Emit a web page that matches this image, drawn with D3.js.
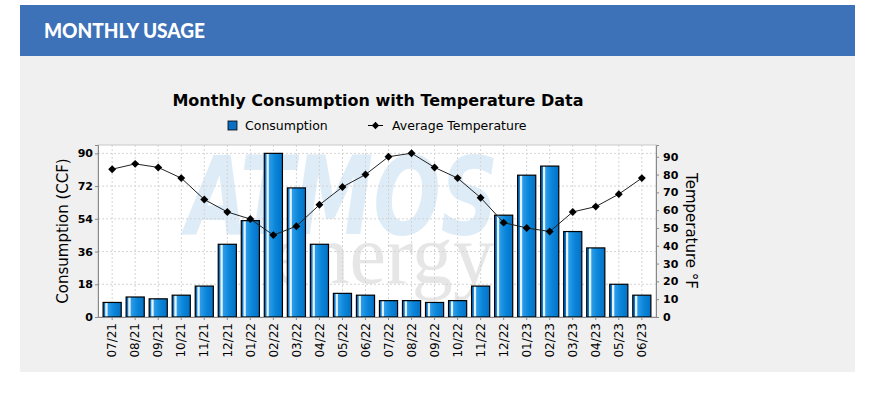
<!DOCTYPE html>
<html>
<head>
<meta charset="utf-8">
<script src="https://cdn.jsdelivr.net/npm/d3@7"></script>
<style>
  body { margin: 0; background: #fff; }
  svg { display: block; font-family: "DejaVu Sans", sans-serif; }
</style>
</head>
<body>
<div class="chartbox"></div>
<script>
var months = ["07/21","08/21","09/21","10/21","11/21","12/21","01/22","02/22","03/22","04/22","05/22","06/22",
              "07/22","08/22","09/22","10/22","11/22","12/22","01/23","02/23","03/23","04/23","05/23","06/23"];
var consumption = [8, 11, 10, 12, 17, 40, 53, 90, 71, 40, 13, 12,
                   9, 9, 8, 9, 17, 56, 78, 83, 47, 38, 18, 12];
var avgTemp = [83, 86, 84, 78, 66, 59, 55, 46, 51, 63, 73, 80,
               90, 92, 84, 78, 67, 53, 50, 48, 59, 62, 69, 78];
var leftTicks = [0, 18, 36, 54, 72, 90];
var rightTicks = [0, 10, 20, 30, 40, 50, 60, 70, 80, 90];

var width = 878, height = 394;
var plot = {left: 98, right: 656, top: 145, bottom: 317};

var svg = d3.select(".chartbox").append("svg")
    .attr("width", width)
    .attr("height", height);

// page panel + header bar
svg.append("rect").attr("x", 20).attr("y", 56).attr("width", 835).attr("height", 316).attr("fill", "#f0f0f0");
svg.append("rect").attr("x", 20).attr("y", 5).attr("width", 835).attr("height", 51).attr("fill", "#3d72b8");
svg.append("text")
    .attr("x", 44).attr("y", 38)
    .attr("fill", "#fff")
    .style("font-family", "Lato, 'Open Sans', sans-serif")
    .style("font-weight", "900")
    .style("font-size", "21px")
    .attr("textLength", 161)
    .attr("lengthAdjust", "spacingAndGlyphs")
    .text("MONTHLY USAGE");

var defs = svg.append("defs");
var grad = defs.append("linearGradient").attr("id", "barGrad")
    .attr("x1", "0%").attr("x2", "100%").attr("y1", "0%").attr("y2", "0%");
[[0, "#0b6fc0"], [0.1, "#0b78cc"], [0.14, "#e4f2fb"], [0.22, "#e4f2fb"], [0.28, "#2c9ce8"], [0.6, "#0a86da"], [1, "#0570c4"]]
    .forEach(function(s) { grad.append("stop").attr("offset", s[0]).attr("stop-color", s[1]); });

var x = d3.scaleBand()
    .domain(months)
    .range([plot.left, plot.right])
    .paddingInner(0.17)
    .paddingOuter(0.2);
var yL = d3.scaleLinear().domain([0, 94.6]).range([plot.bottom, plot.top]);
var yR = d3.scaleLinear().domain([0, 96.6]).range([plot.bottom, plot.top]);

// plot background
svg.append("rect")
    .attr("x", plot.left).attr("y", plot.top)
    .attr("width", plot.right - plot.left).attr("height", plot.bottom - plot.top)
    .attr("fill", "#fff").attr("stroke", "#c8c8c8");

// watermark logo (sits behind the grid)
var wm = svg.append("g").attr("class", "watermark");
wm.append("text")
    .attr("x", 186).attr("y", 234)
    .attr("fill", "#deecf7")
    .style("font-weight", "bold").style("font-style", "italic")
    .style("font-size", "108px")
    .attr("textLength", 312).attr("lengthAdjust", "spacingAndGlyphs")
    .text("ATMOS");
wm.append("text")
    .attr("x", 272).attr("y", 283)
    .attr("fill", "#e6e6e6")
    .style("font-family", "'Liberation Serif', serif")
    .style("font-size", "84px")
    .attr("textLength", 222).attr("lengthAdjust", "spacingAndGlyphs")
    .text("energy");

// grid lines
svg.append("g").selectAll("line.hg")
    .data(leftTicks.slice(1))
    .enter().append("line")
    .attr("x1", plot.left).attr("x2", plot.right)
    .attr("y1", function(d) { return yL(d); }).attr("y2", function(d) { return yL(d); })
    .attr("stroke", "#d4d4d4").attr("stroke-dasharray", "2,2");
svg.append("g").selectAll("line.vg")
    .data(months)
    .enter().append("line")
    .attr("x1", function(d) { return x(d) + x.bandwidth() / 2; })
    .attr("x2", function(d) { return x(d) + x.bandwidth() / 2; })
    .attr("y1", plot.top).attr("y2", plot.bottom)
    .attr("stroke", "#d4d4d4").attr("stroke-dasharray", "2,2");

// bars
svg.append("g").selectAll("rect")
    .data(consumption)
    .enter().append("rect")
    .attr("x", function(d, i) { return x(months[i]) + 0.5; })
    .attr("y", function(d) { return yL(d); })
    .attr("width", x.bandwidth() - 1)
    .attr("height", function(d) { return plot.bottom - yL(d); })
    .attr("fill", "url(#barGrad)")
    .attr("stroke", "#000").attr("stroke-width", 1.2);

// temperature line
var line = d3.line()
    .x(function(d, i) { return x(months[i]) + x.bandwidth() / 2; })
    .y(function(d) { return yR(d); });
svg.append("path").datum(avgTemp)
    .attr("d", line).attr("fill", "none").attr("stroke", "#222").attr("stroke-width", 1);
svg.append("g").selectAll("path.pt")
    .data(avgTemp)
    .enter().append("path")
    .attr("d", d3.symbol().type(d3.symbolDiamond2).size(40))
    .attr("transform", function(d, i) {
        return "translate(" + (x(months[i]) + x.bandwidth() / 2) + "," + yR(d) + ")";
    })
    .attr("fill", "#000");

// axes
var axisL = svg.append("g").attr("transform", "translate(" + plot.left + ",0)")
    .call(d3.axisLeft(yL).tickValues(leftTicks).tickSize(3).tickPadding(2));
var axisR = svg.append("g").attr("transform", "translate(" + plot.right + ",0)")
    .call(d3.axisRight(yR).tickValues(rightTicks).tickSize(3).tickPadding(4));
var axisB = svg.append("g").attr("transform", "translate(0," + plot.bottom + ")")
    .call(d3.axisBottom(x).tickSize(3).tickSizeOuter(0));

[axisL, axisR].forEach(function(a) {
    a.selectAll("text").style("font-size", "11px").style("font-weight", "bold")
        .style("font-family", "'DejaVu Sans', sans-serif").attr("fill", "#000");
});
[axisL, axisR, axisB].forEach(function(a) {
    a.select(".domain").attr("stroke", "#888");
    a.selectAll(".tick line").attr("stroke", "#888");
});
axisB.selectAll("text")
    .style("font-size", "12px").style("font-family", "'DejaVu Sans', sans-serif")
    .attr("fill", "#000")
    .attr("transform", "rotate(-90)")
    .attr("text-anchor", "end")
    .attr("x", -6).attr("y", 0).attr("dy", "0.35em");

// axis titles
svg.append("text")
    .attr("transform", "translate(68,231) rotate(-90)")
    .attr("text-anchor", "middle")
    .style("font-size", "15px")
    .text("Consumption (CCF)");
svg.append("text")
    .attr("transform", "translate(686,231) rotate(90)")
    .attr("text-anchor", "middle")
    .style("font-size", "15px")
    .text("Temperature °F");

// title
svg.append("text")
    .attr("x", 378).attr("y", 106)
    .attr("text-anchor", "middle")
    .style("font-size", "16px")
    .style("font-weight", "bold")
    .text("Monthly Consumption with Temperature Data");

// legend
var legend = svg.append("g");
legend.append("rect").attr("x", 228).attr("y", 121).attr("width", 9).attr("height", 9)
    .attr("fill", "#0a6fc2").attr("stroke", "#000").attr("stroke-width", 0.8);
legend.append("text").attr("x", 245).attr("y", 130).style("font-size", "12.5px").text("Consumption");
legend.append("line").attr("x1", 368).attr("x2", 383).attr("y1", 125.5).attr("y2", 125.5)
    .attr("stroke", "#000");
legend.append("path")
    .attr("d", d3.symbol().type(d3.symbolDiamond2).size(34))
    .attr("transform", "translate(375.5,125.5)")
    .attr("fill", "#000");
legend.append("text").attr("x", 392).attr("y", 130).style("font-size", "12.5px").text("Average Temperature");
</script>
</body>
</html>
